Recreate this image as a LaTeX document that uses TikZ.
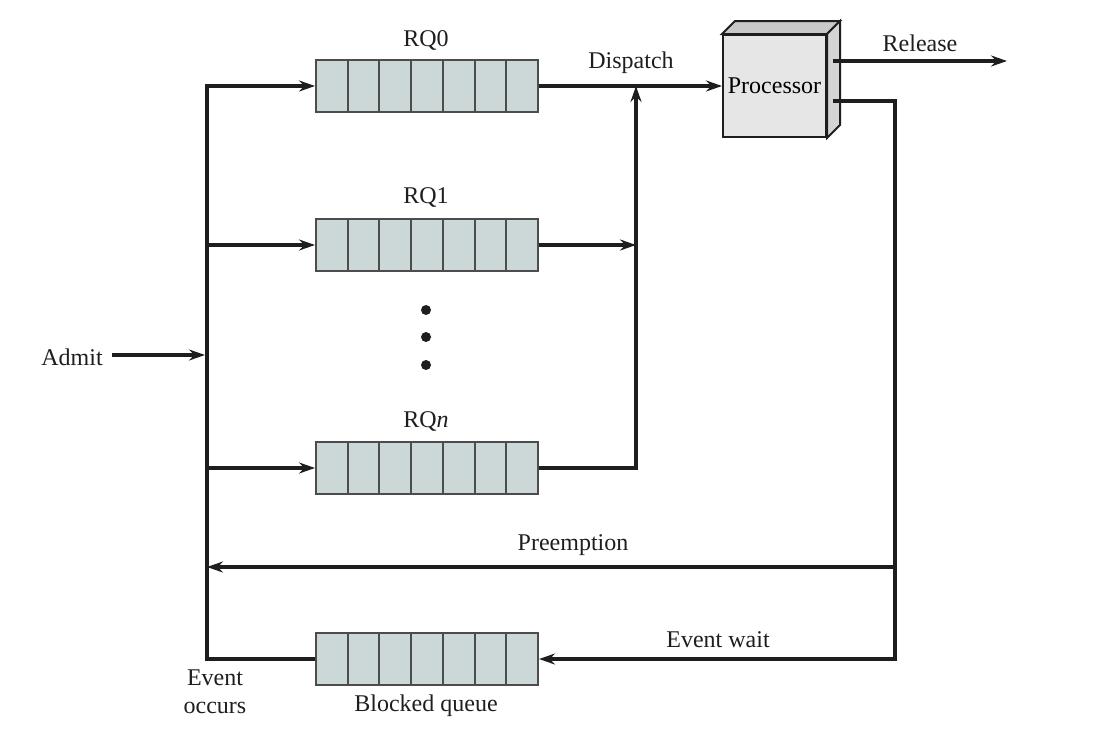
\documentclass[tikz,border=0pt]{standalone}
\usepackage{fontspec}
\setmainfont{Liberation Serif}
\usetikzlibrary{arrows.meta,calc}
\definecolor{qfill}{RGB}{204,216,216}
\definecolor{pfront}{RGB}{230,230,230}
\definecolor{ptop}{RGB}{200,200,200}
\definecolor{pside}{RGB}{212,212,214}
\definecolor{ink}{RGB}{30,30,30}
\begin{document}
\begin{tikzpicture}[x=0.5pt,y=-0.5pt,
  font=\fontsize{12}{14}\selectfont,
  wire/.style={line width=1.6pt, draw=ink},
  flow/.style={wire, -{Stealth[length=8pt,width=5.5pt]}},
  queue/.style={draw=black!70, line width=1pt, fill=qfill,
    minimum width=111pt, minimum height=26pt, inner sep=0pt,
    path picture={\foreach \i in {1,...,6}{
      \draw[black!70,line width=1pt]
        ($(path picture bounding box.south west)!\i/7!(path picture bounding box.south east)$) --
        ($(path picture bounding box.north west)!\i/7!(path picture bounding box.north east)$);}}},
  lbl/.style={inner sep=0pt, text=ink},
  dot/.style={circle, fill=ink, inner sep=0pt, minimum size=5pt},
  cpu/.style={draw=ink, line width=1pt, fill=pfront, minimum width=51.5pt,
    minimum height=51pt, inner sep=0pt}
]
\useasboundingbox (0,0) rectangle (1112,728);

% ready queues and blocked queue
\node[queue] (rq0) at (427,86) {};
\node[queue] (rq1) at (427,245) {};
\node[queue] (rqn) at (427,468) {};
\node[queue] (bq)  at (427,659) {};

\node[lbl] (l0) at (426,40) {RQ0};
\node[lbl] (l1) at (426,197) {RQ1};
\node[lbl] (ln) at (426,421) {RQ\textit{n}};
\node[lbl] (lb) at (426,706) {Blocked queue};

\node[dot] (d1) at (426,310) {};
\node[dot] (d2) at (426,337) {};
\node[dot] (d3) at (426,365) {};

% processor block with depth
\node[cpu] (proc) at (774.5,86) {Processor};
\draw[ink, line width=1pt, fill=ptop]
  (proc.north west) -- ++(13,-13) -- ($(proc.north east)+(13,-13)$) -- (proc.north east) -- cycle;
\draw[ink, line width=1pt, fill=pside]
  (proc.north east) -- ++(13,-13) -- ($(proc.south east)+(13,-13)$) -- (proc.south east) -- cycle;

% named junction points
\coordinate (bustop) at (207,86);
\coordinate (mx) at (636,86);
\coordinate (relout) at (833,61);
\coordinate (relend) at (1007,61);
\coordinate (retout) at (833,101);
\coordinate (retbot) at (895,659);
\coordinate (pre) at (895,567);

% left bus and admission
\draw[flow] (bq.west) -| (bustop) -- (rq0.west);
\draw[flow] (rq1.west -| bustop) -- (rq1.west);
\draw[flow] (rqn.west -| bustop) -- (rqn.west);
\node[lbl] (admit) at (72,357) {Admit};
\draw[flow] (112,355) -- (205,355);

% dispatch path
\draw[flow] (rq0.east) -- (proc.west);
\draw[flow] (rq1.east) -- (rq1.east -| mx);
\draw[flow] (rqn.east) -| (mx);
\node[lbl] (disp) at (631,63) {Dispatch};

% release and return paths
\draw[flow] (relout) -- (relend);
\node[lbl] (rel) at (920,43) {Release};
\draw[flow] (retout) -| (retbot) -- (bq.east);
\draw[flow] (pre) -- (pre -| bustop);
\node[lbl] (lpre) at (573,545) {Preemption};
\node[lbl] (lwait) at (718,640) {Event wait};
\node[lbl, align=center] (locc) at (215,692) {Event\\occurs};
\end{tikzpicture}
\end{document}
